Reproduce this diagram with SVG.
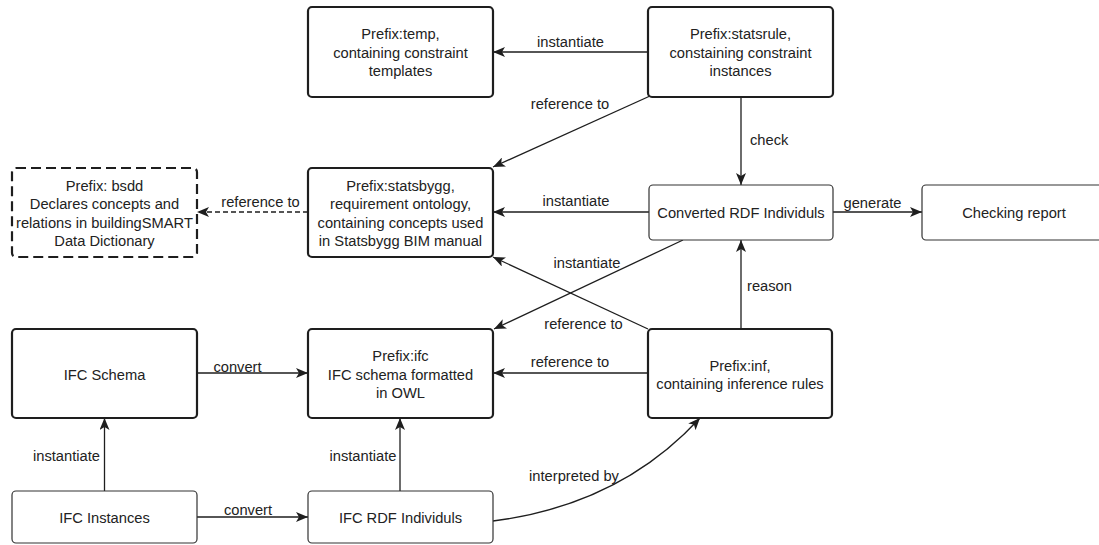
<svg xmlns="http://www.w3.org/2000/svg" width="1099" height="545" viewBox="0 0 1099 545">
<style>
  text { font-family: "Liberation Sans", Arial, sans-serif; font-size: 14.7px; fill: #222; }
  .n { text-anchor: middle; }
  .thick { fill: #fff; stroke: #1e1e1e; stroke-width: 2.2; }
  .thin { fill: #fff; stroke: #333; stroke-width: 1.2; }
  .dash { fill: #fff; stroke: #1e1e1e; stroke-width: 2.2; stroke-dasharray: 10 5; }
  .c { fill: none; stroke: #1e1e1e; stroke-width: 1.3; marker-end: url(#arr); }
  .cd { fill: none; stroke: #1e1e1e; stroke-width: 1.3; stroke-dasharray: 5 3; marker-end: url(#arr); }
</style>
<defs>
  <marker id="arr" viewBox="0 0 12 10" refX="12" refY="5" markerWidth="12" markerHeight="10" markerUnits="userSpaceOnUse" orient="auto">
    <path d="M0,0 L12,5 L0,10 L3,5 Z" fill="#1e1e1e"/>
  </marker>
</defs>
<rect width="1099" height="545" fill="#fff"/>

<g id="connectors">
  <path class="c" d="M648,52 L493,52"/>
  <path class="c" d="M650,96 L493,167"/>
  <path class="c" d="M741,97 L741,185"/>
  <path class="c" d="M649,212 L493,212"/>
  <path class="c" d="M833,212 L922,212"/>
  <path class="cd" d="M308,212 L197,212"/>
  <path class="c" d="M683,240 L494,329"/>
  <path class="c" d="M648,329 L493,257"/>
  <path class="c" d="M648,373 L493,373"/>
  <path class="c" d="M741,329 L741,240"/>
  <path class="c" d="M197,373 L308,373"/>
  <path class="c" d="M104.5,491 L104.5,418"/>
  <path class="c" d="M400,491 L400,418"/>
  <path class="c" d="M197,517 L308,517"/>
  <path class="c" d="M493,521 Q620,505 700,418"/>
  <text class="n" x="570.5" y="47">instantiate</text>
  <text class="n" x="570" y="109">reference to</text>
  <text x="750" y="145">check</text>
  <text class="n" x="576" y="206">instantiate</text>
  <text class="n" x="872.5" y="207.5">generate</text>
  <text class="n" x="260.5" y="207">reference to</text>
  <text class="n" x="587" y="268">instantiate</text>
  <text class="n" x="583.5" y="329">reference to</text>
  <text class="n" x="570" y="367">reference to</text>
  <text x="747" y="291">reason</text>
  <text class="n" x="237.5" y="371.5">convert</text>
  <text class="n" x="66.5" y="461">instantiate</text>
  <text class="n" x="363" y="461">instantiate</text>
  <text class="n" x="248" y="515">convert</text>
  <text class="n" x="574" y="481">interpreted by</text>
</g>

<g id="temp">
  <rect class="thick" x="308" y="7" width="185" height="90" rx="4"/>
  <text class="n" x="400.5" y="39">Prefix:temp,</text>
  <text class="n" x="400.5" y="57.5">containing constraint</text>
  <text class="n" x="400.5" y="76">templates</text>
</g>
<g id="statsrule">
  <rect class="thick" x="648" y="7" width="185" height="90" rx="4"/>
  <text class="n" x="740.5" y="39">Prefix:statsrule,</text>
  <text class="n" x="740.5" y="57.5">constaining constraint</text>
  <text class="n" x="740.5" y="76">instances</text>
</g>
<g id="bsdd">
  <rect class="dash" x="12" y="168" width="185" height="89" rx="4"/>
  <text class="n" x="104.5" y="190.5">Prefix: bsdd</text>
  <text class="n" x="104.5" y="209">Declares concepts and</text>
  <text class="n" x="104.5" y="227.5">relations in buildingSMART</text>
  <text class="n" x="104.5" y="246">Data Dictionary</text>
</g>
<g id="statsbygg">
  <rect class="thick" x="308" y="168" width="185" height="89" rx="4"/>
  <text class="n" x="400.5" y="190.5">Prefix:statsbygg,</text>
  <text class="n" x="400.5" y="209">requirement ontology,</text>
  <text class="n" x="400.5" y="227.5">containing concepts used</text>
  <text class="n" x="400.5" y="246">in Statsbygg BIM manual</text>
</g>
<g id="converted">
  <rect class="thin" x="649" y="185" width="184" height="55" rx="4"/>
  <text class="n" x="741" y="218">Converted RDF Individuls</text>
</g>
<g id="report">
  <rect class="thin" x="922" y="185" width="184" height="55" rx="4"/>
  <text class="n" x="1014" y="218">Checking report</text>
</g>
<g id="ifcschema">
  <rect class="thick" x="12" y="329" width="185" height="89" rx="4"/>
  <text class="n" x="104.5" y="380">IFC Schema</text>
</g>
<g id="ifc">
  <rect class="thick" x="308" y="329" width="185" height="89" rx="4"/>
  <text class="n" x="400.5" y="361">Prefix:ifc</text>
  <text class="n" x="400.5" y="379.5">IFC schema formatted</text>
  <text class="n" x="400.5" y="398">in OWL</text>
</g>
<g id="inf">
  <rect class="thick" x="648" y="329" width="184" height="89" rx="4"/>
  <text class="n" x="740" y="370.5">Prefix:inf,</text>
  <text class="n" x="740" y="389">containing inference rules</text>
</g>
<g id="ifcinstances">
  <rect class="thin" x="12" y="491" width="185" height="52" rx="4"/>
  <text class="n" x="104.5" y="523">IFC Instances</text>
</g>
<g id="ifcrdf">
  <rect class="thin" x="308" y="491" width="185" height="52" rx="4"/>
  <text class="n" x="400.5" y="523">IFC RDF Individuls</text>
</g>
</svg>
